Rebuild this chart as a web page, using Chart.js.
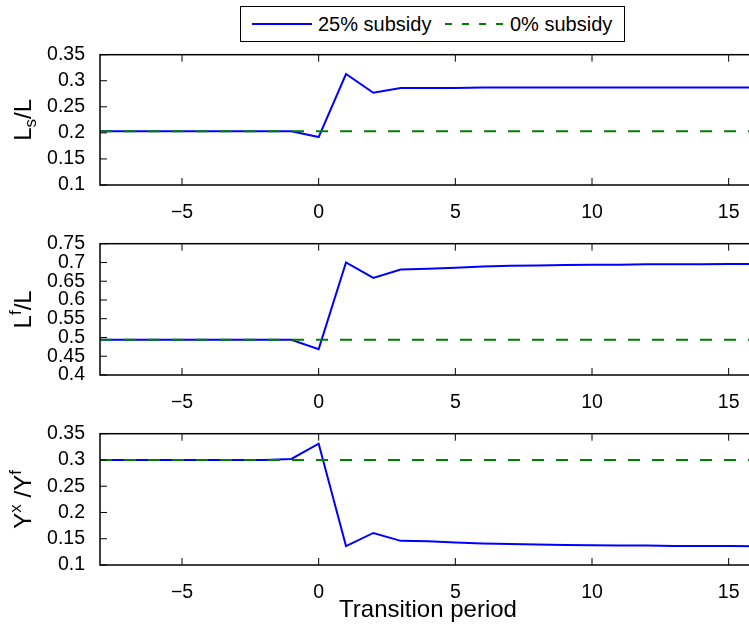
<!DOCTYPE html>
<html>
<head>
<meta charset="utf-8">
<script src="https://cdn.jsdelivr.net/npm/chart.js@4.4.1/dist/chart.umd.min.js"></script>
<style>
html, body { margin: 0; padding: 0; background: #fff; overflow: hidden; width: 749px; height: 624px; }
canvas { position: absolute; left: 0; }
#legend { position: absolute; left: 240px; top: 6px; width: 383px; height: 34px; border: 1px solid #000; background: #fff;
  font: 20px "Liberation Sans", Arial, sans-serif; color: #000; z-index: 2; }
#legend svg { position: absolute; left: 0; top: 0; }
#legend span { position: absolute; top: 0; line-height: 34px; white-space: nowrap; }
</style>
</head>
<body>
<div id="legend">
  <svg width="383" height="34">
    <line x1="11" y1="17" x2="71" y2="17" stroke="#0000ff" stroke-width="2"/>
    <line x1="204" y1="17" x2="264" y2="17" stroke="#008000" stroke-width="2" stroke-dasharray="7,10"/>
  </svg>
  <span style="left:77px">25% subsidy</span>
  <span style="left:269px">0% subsidy</span>
</div>
<canvas id="panel1" width="757" height="185" style="top:36px"></canvas>
<canvas id="panel2" width="757" height="186" style="top:225px"></canvas>
<canvas id="panel3" width="757" height="212" style="top:415px"></canvas>
<script>
// transition periods
var periods = [-8, -7, -6, -5, -4, -3, -2, -1, 0, 1, 2, 3, 4, 5, 6, 7, 8, 9, 10, 11, 12, 13, 14, 15, 16];

// L_s / L
var lsSubsidy = [0.203, 0.203, 0.203, 0.203, 0.203, 0.203, 0.203, 0.203, 0.192, 0.313, 0.277, 0.286, 0.286,
                 0.286, 0.287, 0.287, 0.287, 0.287, 0.287, 0.287, 0.287, 0.287, 0.287, 0.287, 0.287];
var lsBase = [0.203, 0.203, 0.203, 0.203, 0.203, 0.203, 0.203, 0.203, 0.203, 0.203, 0.203, 0.203, 0.203,
              0.203, 0.203, 0.203, 0.203, 0.203, 0.203, 0.203, 0.203, 0.203, 0.203, 0.203, 0.203];

// L^f / L
var lfSubsidy = [0.494, 0.494, 0.494, 0.494, 0.494, 0.494, 0.494, 0.494, 0.469, 0.700, 0.659, 0.681, 0.683,
                 0.686, 0.689, 0.691, 0.692, 0.693, 0.694, 0.694, 0.695, 0.695, 0.695, 0.696, 0.696];
var lfBase = [0.494, 0.494, 0.494, 0.494, 0.494, 0.494, 0.494, 0.494, 0.494, 0.494, 0.494, 0.494, 0.494,
              0.494, 0.494, 0.494, 0.494, 0.494, 0.494, 0.494, 0.494, 0.494, 0.494, 0.494, 0.494];

// Y^x / Y^f
var yxSubsidy = [0.300, 0.300, 0.300, 0.300, 0.300, 0.300, 0.300, 0.302, 0.331, 0.136, 0.161, 0.146, 0.145,
                 0.143, 0.141, 0.140, 0.139, 0.138, 0.1375, 0.137, 0.137, 0.136, 0.136, 0.136, 0.1355];
var yxBase = [0.300, 0.300, 0.300, 0.300, 0.300, 0.300, 0.300, 0.300, 0.300, 0.300, 0.300, 0.300, 0.300,
              0.300, 0.300, 0.300, 0.300, 0.300, 0.300, 0.300, 0.300, 0.300, 0.300, 0.300, 0.300];

var xTicks = [-5, 0, 5, 10, 15];
var lsTicks = [0.1, 0.15, 0.2, 0.25, 0.3, 0.35];
var lfTicks = [0.4, 0.45, 0.5, 0.55, 0.6, 0.65, 0.7, 0.75];
var yxTicks = [0.1, 0.15, 0.2, 0.25, 0.3, 0.35];

Chart.defaults.font.family = '"Liberation Sans", Arial, sans-serif';
Chart.defaults.color = '#000';

// matlab style box with inward ticks on all four sides
var frame = {
  id: 'frame',
  afterDraw: function(chart) {
    var a = chart.chartArea, ctx = chart.ctx, xs = chart.scales.x, ys = chart.scales.y, len = 7;
    ctx.save();
    ctx.strokeStyle = '#000';
    ctx.lineWidth = 1;
    ctx.beginPath();
    xs.ticks.forEach(function(t) {
      var px = xs.getPixelForValue(t.value);
      ctx.moveTo(px, a.bottom); ctx.lineTo(px, a.bottom - len);
      ctx.moveTo(px, a.top); ctx.lineTo(px, a.top + len);
    });
    ys.ticks.forEach(function(t) {
      var py = ys.getPixelForValue(t.value);
      ctx.moveTo(a.left, py); ctx.lineTo(a.left + len, py);
      ctx.moveTo(a.right, py); ctx.lineTo(a.right - len, py);
    });
    ctx.stroke();
    ctx.lineWidth = 1.5;
    ctx.strokeRect(a.left, a.top, a.right - a.left, a.bottom - a.top);
    ctx.restore();
  }
};

// rotated y title with sub/superscripts (parts kept out of the options proxy)
function axisLabel(parts) {
  return {
    id: 'axisLabel',
    afterDraw: function(chart) {
      var a = chart.chartArea, ctx = chart.ctx;
      var big = '24px "Liberation Sans", Arial, sans-serif';
      var small = '17px "Liberation Sans", Arial, sans-serif';
      ctx.save();
      ctx.translate(31, (a.top + a.bottom) / 2);
      ctx.rotate(-Math.PI / 2);
      ctx.fillStyle = '#000';
      ctx.textBaseline = 'alphabetic';
      ctx.textAlign = 'left';
      var widths = [], total = 0;
      parts.forEach(function(p) {
        ctx.font = p.shift ? small : big;
        var w = ctx.measureText(p.text).width;
        widths.push(w);
        total += w;
      });
      var cx = -total / 2;
      parts.forEach(function(p, i) {
        ctx.font = p.shift ? small : big;
        ctx.fillText(p.text, cx, p.shift || 0);
        cx += widths[i];
      });
      ctx.restore();
    }
  };
}

function makePanel(id, subsidy, base, yTicks, label, xHeight, xTitle) {
  return new Chart(document.getElementById(id).getContext('2d'), {
    type: 'line',
    data: {
      labels: periods,
      datasets: [
        { label: '25% subsidy', data: subsidy, borderColor: '#0000ff', borderWidth: 2, pointRadius: 0, order: 2 },
        { label: '0% subsidy', data: base, borderColor: '#008000', borderWidth: 2, borderDash: [12, 12], pointRadius: 0, order: 1 }
      ]
    },
    options: {
      responsive: false,
      animation: false,
      layout: { padding: { top: 14, right: 1, left: 0, bottom: 0 } },
      plugins: {
        legend: { display: false },
        tooltip: { enabled: false }
      },
      scales: {
        x: {
          type: 'linear', min: -8, max: 16,
          grid: { display: false }, border: { display: false },
          afterBuildTicks: function(s) { s.ticks = xTicks.map(function(v) { return { value: v }; }); },
          afterFit: function(s) { s.height = xHeight; },
          ticks: {
            padding: 8, maxRotation: 0, autoSkip: false, font: { size: 19.5 },
            callback: function(v) { return String(v).replace('-', '\u2212'); }
          },
          title: { display: !!xTitle, text: xTitle || '', font: { size: 24 }, padding: { top: 0, bottom: 2 } }
        },
        y: {
          min: yTicks[0], max: yTicks[yTicks.length - 1],
          grid: { display: false }, border: { display: false },
          afterBuildTicks: function(s) { s.ticks = yTicks.map(function(v) { return { value: v }; }); },
          afterFit: function(s) { s.width = 100; },
          ticks: {
            padding: 7, autoSkip: false, font: { size: 19.5 },
            callback: function(v) { return String(+v.toFixed(2)); }
          }
        }
      }
    },
    plugins: [frame, axisLabel(label)]
  });
}

makePanel('panel1', lsSubsidy, lsBase, lsTicks, [{ text: 'L' }, { text: 's', shift: 5 }, { text: '/L' }], 36);
makePanel('panel2', lfSubsidy, lfBase, lfTicks, [{ text: 'L' }, { text: 'f', shift: -10 }, { text: '/L' }], 36);
makePanel('panel3', yxSubsidy, yxBase, yxTicks,
  [{ text: 'Y' }, { text: 'x', shift: -10 }, { text: ' /Y' }, { text: 'f', shift: -10 }], 62, 'Transition period');
</script>
</body>
</html>
